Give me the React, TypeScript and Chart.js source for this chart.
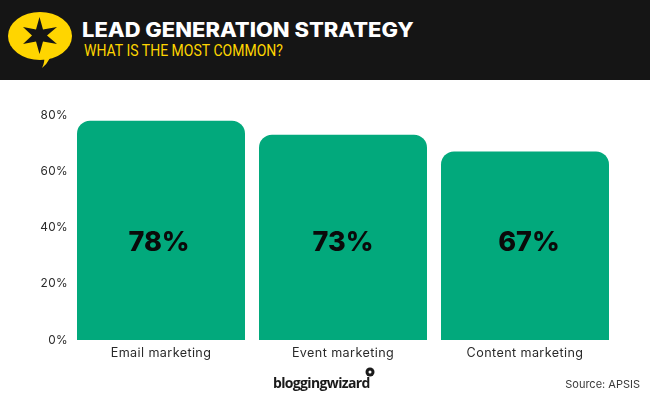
import React, { useEffect, useRef } from "react";
import { Chart, registerables } from "chart.js";

Chart.register(...registerables);

const categories = ["Email marketing", "Event marketing", "Content marketing"];
const values = [78, 73, 67];
const yTicks = [0, 20, 40, 60, 80];
const title = "LEAD GENERATION STRATEGY";
const subtitle = "WHAT IS THE MOST COMMON?";
const source = "Source: APSIS";
const brand = "bloggingwizard";

const valueLabels = {
  id: "valueLabels",
  beforeDraw(chart: any) {
    chart.ctx.letterSpacing = "0.4px";
  },
  afterDatasetsDraw(chart: any) {
    const { ctx, scales } = chart;
    ctx.save();
    ctx.letterSpacing = "0px";
    ctx.font = "800 27px Inter";
    ctx.fillStyle = "#0a0a0a";
    ctx.textAlign = "center";
    ctx.textBaseline = "middle";
    values.forEach((v, i) => {
      const nudge = i === 0 ? -2 : i === 2 ? 4 : 0;
      ctx.fillText(v + "%", scales.x.getPixelForValue(i) + nudge, scales.y.getPixelForValue(34.6));
    });
    ctx.restore();
  },
};

export default function App() {
  const ref = useRef<HTMLCanvasElement>(null);
  useEffect(() => {
    document.body.style.margin = "0";
    const chart = new Chart(ref.current!, {
      type: "bar",
      data: {
        labels: categories,
        datasets: [
          {
            data: values,
            backgroundColor: "#02a97c",
            borderRadius: { topLeft: 13, topRight: 13, bottomLeft: 0, bottomRight: 0 },
            borderSkipped: false,
            barPercentage: 1,
            categoryPercentage: 168 / 182,
          },
        ],
      },
      plugins: [valueLabels],
      options: {
        responsive: false,
        animation: false,
        layout: { padding: { top: 115, right: 34, bottom: 35, left: 0 } },
        plugins: { legend: { display: false }, title: { display: false }, tooltip: { enabled: false } },
        scales: {
          x: {
            grid: { display: false, drawTicks: false },
            border: { display: false },
            ticks: { color: "#2a2a2a", font: { family: "Inter", size: 12.6 }, padding: 6, maxRotation: 0 },
            afterFit: (s: any) => { s.height = 25; },
          },
          y: {
            min: 0,
            max: 80,
            afterBuildTicks: (s: any) => { s.ticks = yTicks.map((value) => ({ value })); },
            grid: { display: false, drawTicks: false },
            border: { display: false },
            ticks: {
              color: "#2a2a2a",
              font: { family: "Inter", size: 11.8 },
              padding: 2,
              callback: (v: any) => v + "%",
            },
            afterFit: (s: any) => { s.width = 70; },
          },
        },
      },
    });
    return () => chart.destroy();
  }, []);

  return (
    <div style={{ position: "relative", width: 650, height: 400, overflow: "hidden", background: "#fff" }}>
      <canvas ref={ref} width={650} height={400} style={{ position: "absolute", left: 0, top: 0, display: "block" }} />
      <div style={{ position: "absolute", left: 0, top: 0, width: 650, height: 80, background: "#151515" }} />
      <svg width={80} height={80} style={{ position: "absolute", left: 0, top: 0 }} viewBox="0 0 80 80">
        <ellipse cx={40} cy={36} rx={32} ry={24} fill="#ffd500" />
        <path d="M44 57 L50 58 Q47 64 42 68 Q45 62 44 57 Z" fill="#ffd500" />
        <path d="M39.5 17 L43 29.5 L57 27 L47 35.5 L57 44 L43 41.5 L39.5 54 L36 41.5 L23 44 L32 35.5 L23 27 L36 29.5 Z" fill="#151515" />
      </svg>
      <div style={{ position: "absolute", left: 82, top: 17, font: "800 19.5px Inter", color: "#fff", whiteSpace: "nowrap", lineHeight: "26px", transform: "scaleX(1.125)", transformOrigin: "left center" }}>{title}</div>
      <div style={{ position: "absolute", left: 84, top: 42, font: "400 16.5px Roboto", color: "#ffd500", whiteSpace: "nowrap", lineHeight: "18px", transform: "scaleX(0.85)", transformOrigin: "left center" }}>{subtitle}</div>
      <div style={{ position: "absolute", left: 273, top: 374, font: "700 14px 'Open Sans'", color: "#1a1a1a", letterSpacing: "-0.65px", whiteSpace: "nowrap", lineHeight: "18px" }}>{brand}</div>
      <svg width={12} height={12} style={{ position: "absolute", left: 364, top: 367 }} viewBox="0 0 12 12">
        <circle cx={6} cy={5} r={4.5} fill="#1a1a1a" />
        <circle cx={6} cy={5} r={1.5} fill="#fff" />
      </svg>
      <div style={{ position: "absolute", right: 10, top: 377, font: "400 11px Inter", color: "#3a3a3a", whiteSpace: "nowrap", lineHeight: "14px" }}>{source}</div>
    </div>
  );
}
